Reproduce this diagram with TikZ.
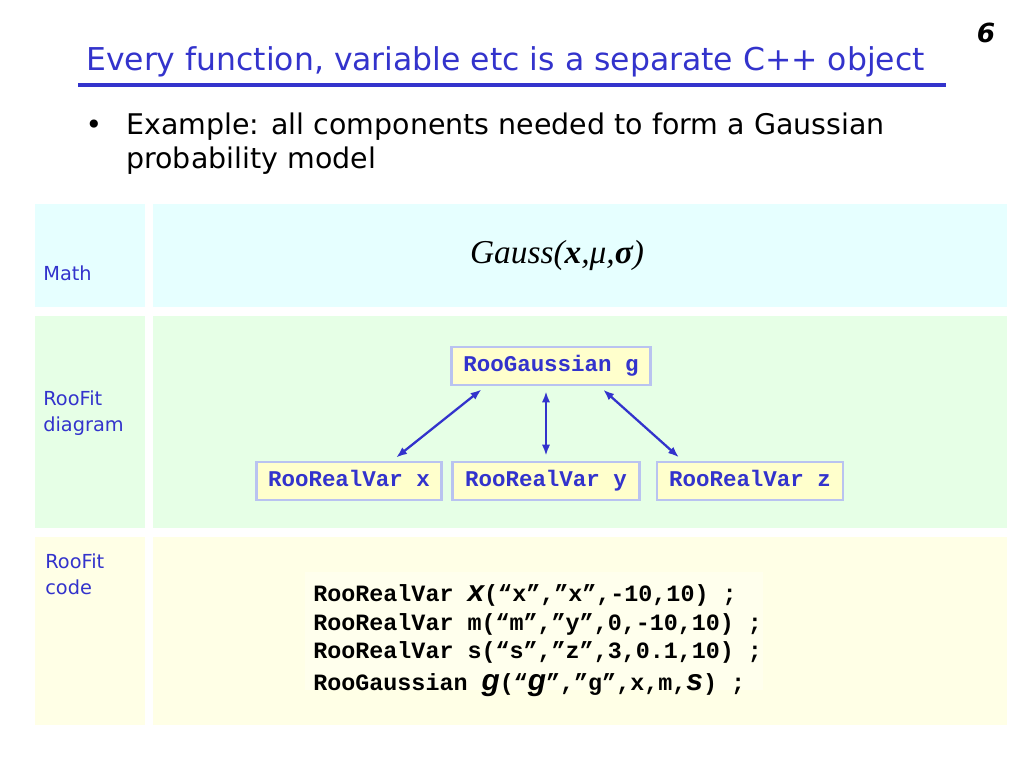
\documentclass[tikz,border=0pt]{standalone}
\usepackage{fontspec}
\setmainfont{DejaVu Sans}
\setmonofont{Liberation Mono}
\newfontfamily\timesfont{Liberation Serif}
\newfontfamily\arialfont{Liberation Sans}
\usetikzlibrary{positioning, arrows.meta}
\definecolor{title_blue}{RGB}{51, 51, 204}
\definecolor{math_bg}{RGB}{230, 255, 255}
\definecolor{diag_bg}{RGB}{230, 255, 230}
\definecolor{code_bg}{RGB}{255, 255, 230}
\definecolor{node_fill}{RGB}{255, 255, 204}
\definecolor{node_line}{RGB}{185, 195, 240}
\definecolor{arrow_blue}{RGB}{51, 51, 204}
\tikzstyle{roonode}=[draw=node_line, line width=1.5pt, fill=node_fill, font=\ttfamily\bfseries\fontsize{12.8}{14}\selectfont, text=title_blue, minimum height=0.76cm, text height=1.7ex, text depth=0.5ex, inner xsep=4pt]
\tikzstyle{rowlabel}=[anchor=west, align=left, font=\fontsize{11}{15}\selectfont, text=title_blue, inner sep=0pt]
\tikzstyle{codeline}=[anchor=west, inner sep=0pt, font=\ttfamily\bfseries\fontsize{13.3}{14}\selectfont]
\tikzstyle{link}=[{Latex[length=2.2mm]}-{Latex[length=2.2mm]}, color=arrow_blue, line width=1.3pt, shorten <=1mm, shorten >=1mm]
\newcommand{\bigit}[1]{{\arialfont\bfseries\itshape\fontsize{17}{17}\selectfont #1}}

\begin{document}
\begin{tikzpicture}[x=0.02cm, y=-0.02cm]
        \useasboundingbox[fill=white] (0, 0) rectangle (1024, 768);

        % Header
        \node[font=\bfseries\itshape\fontsize{15}{18}\selectfont] (num) at (986, 33) {6};
        \node[anchor=west, text=title_blue, font=\fontsize{17.9}{20}\selectfont] (title) at (80, 62) {Every function, variable etc is a separate C++ object};
        \draw[title_blue, line width=2pt] (78, 85) -- (946, 85);
        \node[font=\fontsize{16}{18}\selectfont] (dot) at (94, 127) {•};
        \node[anchor=north west, align=left, inner sep=0pt, font=\fontsize{16.2}{19.2}\selectfont] (bullet) at (126, 113) {Example: all components needed to form a Gaussian\\probability model};

        % Row panels
        \fill[math_bg] (35, 204) rectangle (145, 307);
        \fill[math_bg] (153, 204) rectangle (1007, 307);
        \fill[diag_bg] (35, 316) rectangle (145, 528);
        \fill[diag_bg] (153, 316) rectangle (1007, 528);
        \fill[code_bg] (35, 537) rectangle (145, 725);
        \fill[code_bg] (153, 537) rectangle (1007, 725);

        % Row labels
        \node[rowlabel] (lmath) at (43, 273) {Math};
        \node[rowlabel] (ldiag) at (43, 413) {RooFit\\diagram};
        \node[rowlabel] (lcode) at (45, 574) {RooFit\\code};

        % Math
        \node[font=\timesfont\itshape\fontsize{19}{22}\selectfont] (gauss) at (557, 255) {Gauss(\textbf{x},μ,\textbf{σ})};

        % Diagram nodes
        \node[roonode, minimum width=3.97cm] (g) at (551, 366) {RooGaussian g};
        \node[roonode, minimum width=3.70cm] (x) at (349, 481) {RooRealVar x};
        \node[roonode, minimum width=3.74cm] (y) at (546, 481) {RooRealVar y};
        \node[roonode, minimum width=3.72cm] (z) at (750, 481) {RooRealVar z};

        % Links
        \draw[link] ([xshift=0.7cm]g.south west) -- ([xshift=2.74cm]x.north west);
        \draw[link] (g.south -| y.north) -- (y.north);
        \draw[link] ([xshift=2.98cm]g.south west) -- ([xshift=0.54cm]z.north west);

        % Code block
        \fill[white!30!code_bg] (305, 572) rectangle (763, 690);
        \node[codeline] (c1) at (313, 595) {RooRealVar \bigit{x}(“x”,”x”,-10,10) ;};
        \node[codeline] (c2) at (313, 624) {RooRealVar m(“m”,”y”,0,-10,10) ;};
        \node[codeline] (c3) at (313, 652) {RooRealVar s(“s”,”z”,3,0.1,10) ;};
        \node[codeline] (c4) at (313, 685) {RooGaussian \bigit{g}(“\bigit{g}”,”g”,x,m,\bigit{s}) ;};

    \end{tikzpicture}
\end{document}
